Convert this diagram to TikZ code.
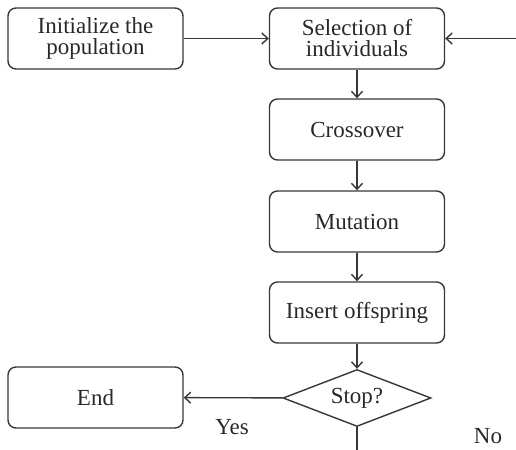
\documentclass[tikz,border=0pt]{standalone}
\usepackage{fontspec}
\setmainfont{Liberation Serif}
\usepackage{xcolor}
\usepackage{tikz}
\usetikzlibrary{shapes.geometric, arrows.meta}
\definecolor{LineGray}{RGB}{55,55,55}
\definecolor{TextGray}{RGB}{40,40,40}

\begin{document}
\begin{tikzpicture}[x=0.5pt, y=-0.5pt]
      \tikzset{box/.style={draw=LineGray, line width=0.7pt, rounded corners=4pt, minimum width=87.5pt, minimum height=30.5pt,
        align=center, text=TextGray, font=\fontsize{11.5}{10.5}\selectfont},
        test/.style={draw=LineGray, line width=0.7pt, diamond, aspect=2.6, inner sep=0pt, minimum width=74pt, minimum height=28.5pt,
        text=TextGray, font=\fontsize{11.5}{10.5}\selectfont},
        arr/.style={draw=LineGray, line width=0.7pt, -{Straight Barb[length=3pt,width=5.5pt]}},
        lbl/.style={text=TextGray, font=\fontsize{11.5}{10.5}\selectfont}}
      \useasboundingbox (0,0) rectangle (516,450);
      \node[box] (init) at (95.5,38.5) {Initialize the\\population};
      \node[box] (select) at (357,38.5) {Selection of\\individuals};
      \node[box] (cross) at (357,129.5) {Crossover};
      \node[box] (mutate) at (357,221.5) {Mutation};
      \node[box] (insert) at (357,312.5) {Insert offspring};
      \node[test] (stop) at (357,398) {Stop?};
      \node[box] (finish) at (95.5,397.5) {End};
      \coordinate (loopin) at (516,38.5);
      \coordinate (loopout) at (357,450);
      % main flow
      \draw[arr] (init) -- (select);
      \draw[arr] (loopin) -- (select);
      \draw[arr] (select) -- (cross);
      \draw[arr] (cross) -- (mutate);
      \draw[arr] (mutate) -- (insert);
      \draw[arr] (insert) -- (stop);
      \draw[arr] (stop) -- (finish);
      \draw[draw=LineGray, line width=0.7pt] (stop.south) -- (loopout);
      \node[lbl] (yes) at (232,427) {Yes};
      \node[lbl] (no) at (488,436) {No};
    \end{tikzpicture}
\end{document}
